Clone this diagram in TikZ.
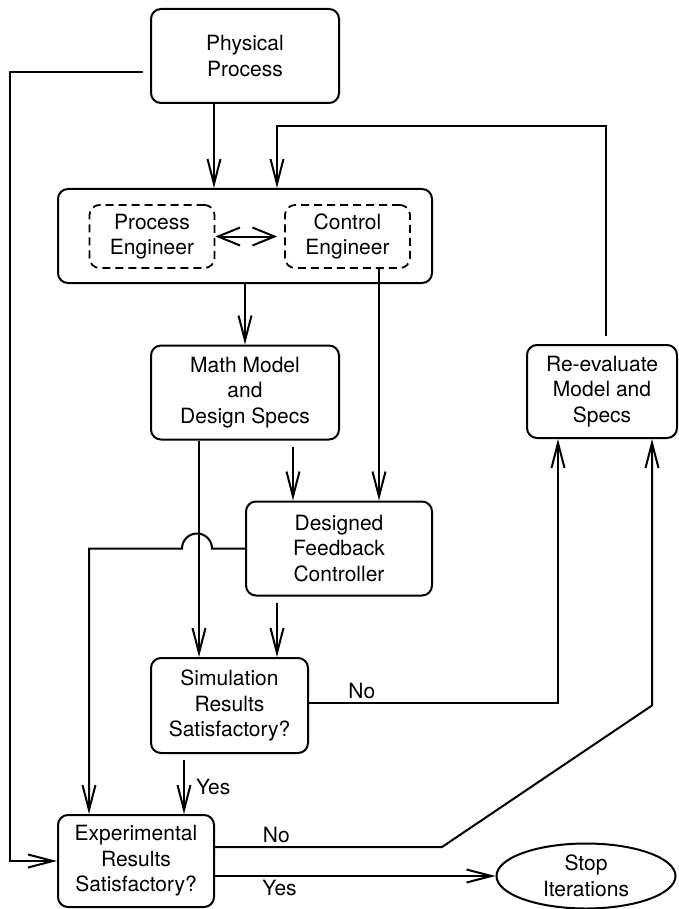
\documentclass[tikz,border=0pt]{standalone}
\usepackage{fontspec}
\setmainfont{TeX Gyre Heros}
\usetikzlibrary{arrows.meta,shapes.geometric}

\begin{document}
\begin{tikzpicture}[x=1pt,y=-1pt,
 every node/.style={font=\fontsize{21}{25.5}\selectfont,align=center},
 block/.style={draw,line width=2pt,rounded corners=10pt,inner sep=0pt},
 actor/.style={draw,line width=1.8pt,dash pattern=on 8pt off 5pt,
   rounded corners=10pt,inner sep=0pt,minimum width=125pt,minimum height=63pt},
 flow/.style={line width=2pt,-{Straight Barb[length=25pt,width=13pt]}},
 both/.style={line width=2pt,
   {Straight Barb[length=22pt,width=18pt]}-{Straight Barb[length=22pt,width=18pt]}},
 lbl/.style={inner sep=3pt}]

 \useasboundingbox (0,0) rectangle (678,909);

 \node[block,minimum width=188pt,minimum height=94pt] (phys) at (245,56) {Physical\\Process};
 \node[block,minimum width=374pt,minimum height=94pt] (eng) at (245,236) {};
 \node[actor] (proc) at (152,236.5) {Process\\Engineer};
 \node[actor] (ctrl) at (347.5,236.5) {Control\\Engineer};
 \node[block,minimum width=188pt,minimum height=94pt] (math) at (245,392.5) {Math Model\\and\\Design Specs};
 \node[block,minimum width=150pt,minimum height=93pt] (reeval) at (602,391.5) {Re-evaluate\\Model and\\Specs};
 \node[block,minimum width=186pt,minimum height=94pt] (ctrlr) at (339,548.5) {Designed\\Feedback\\Controller};
 \node[block,minimum width=157pt,minimum height=95pt] (sim) at (229.5,705.5) {Simulation\\Results\\Satisfactory?};
 \node[block,minimum width=156pt,minimum height=92pt] (exper) at (136,861) {Experimental\\Results\\Satisfactory?};
 \node[ellipse,draw,line width=2pt,inner sep=0pt,minimum width=179pt,minimum height=65pt] (stop) at (586,876) {Stop\\Iterations};

 % top part
 \draw[flow] ([xshift=-31pt]phys.south) -- ([xshift=-31pt]phys.south |- eng.north);
 \draw[flow] ([shift={(-7pt,-16pt)}]phys.west) -- ++(-133,0) |- (exper.west);
 \draw[flow] ([shift={(4pt,8pt)}]reeval.north) -- ++(0,-210) -| ([xshift=32pt]eng.north);
 \draw[both] (proc.east) -- ([xshift=-7pt]ctrl.west);
 \draw[flow] (eng.south) -- (math.north);
 \draw[flow] ([xshift=31.5pt]ctrl.south) -- ([xshift=31.5pt]ctrl.south |- ctrlr.north);

 % middle part
 \draw[flow] ([xshift=-46pt]math.south) -- ([xshift=-46pt]math.south |- sim.north);
 \draw[flow] ([shift={(48pt,-6pt)}]math.south) -- ([xshift=48pt]math.south |- ctrlr.north);
 \draw[flow] (ctrlr.west) -- ++(-33,0) arc[start angle=0,end angle=180,radius=15pt]
   -| ([xshift=-47pt]exper.north);
 \draw[flow] ([shift={(-62pt,-6pt)}]ctrlr.south) -- ([xshift=-62pt]ctrlr.south |- sim.north);

 % decisions
 \draw[flow] ([yshift=3pt]sim.east) -| node[lbl,pos=0.106,above] (simno) {No} ([xshift=-44pt]reeval.south);
 \draw[flow] ([shift={(-45.5pt,-6pt)}]sim.south) -- node[lbl,right,xshift=8pt] (simyes) {Yes}
   ([xshift=-45.5pt]sim.south |- exper.north);
 \draw[flow] ([yshift=14pt]exper.east) -- node[lbl,pos=0.27,above] (expno) {No} ++(227,0)
   -- ([xshift=50pt]reeval.south |- sim.east) -- ([xshift=50pt]reeval.south);
 \draw[flow] ([yshift=-15pt]exper.east) -- node[lbl,pos=0.23,below] (expyes) {Yes} (stop.west);

\end{tikzpicture}
\end{document}
